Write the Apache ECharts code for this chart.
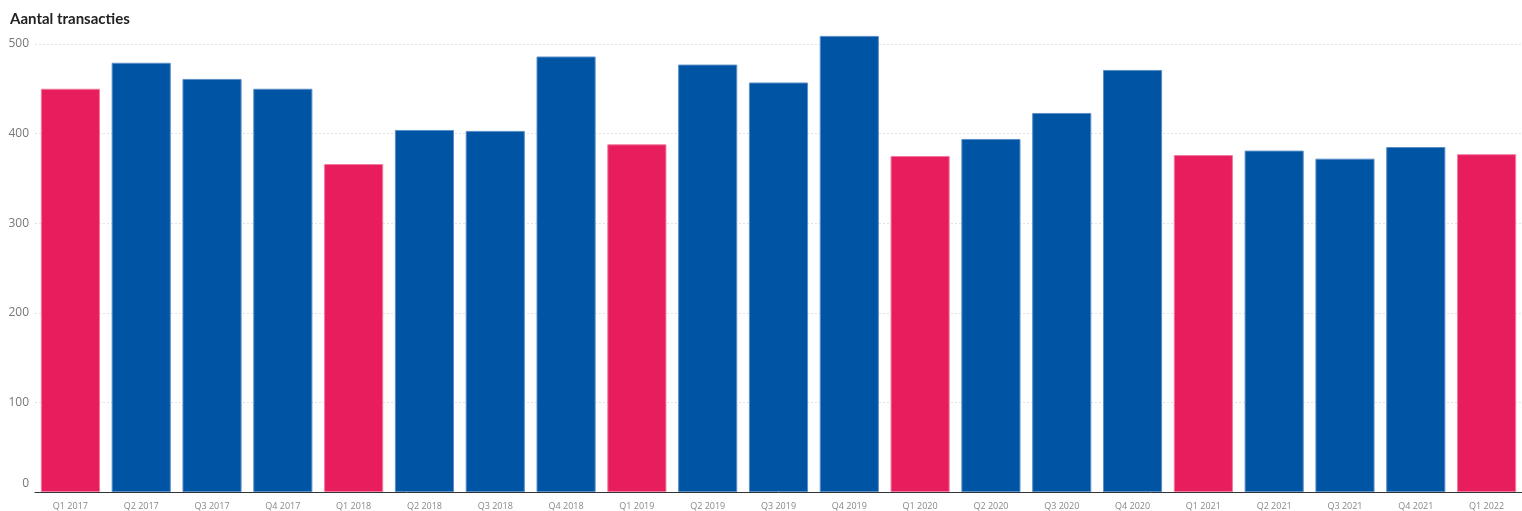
<!DOCTYPE html>
<html>
<head>
<meta charset="utf-8">
<script src="https://cdn.jsdelivr.net/npm/echarts@6/dist/echarts.min.js"></script>
<style>
    html, body { margin: 0; padding: 0; background: #fff; }
    #chart { width: 1522px; height: 511px; }
</style>
</head>
<body>
<div id="chart"></div>
<script>
const quarters = [
    'Q1 2017', 'Q2 2017', 'Q3 2017', 'Q4 2017',
    'Q1 2018', 'Q2 2018', 'Q3 2018', 'Q4 2018',
    'Q1 2019', 'Q2 2019', 'Q3 2019', 'Q4 2019',
    'Q1 2020', 'Q2 2020', 'Q3 2020', 'Q4 2020',
    'Q1 2021', 'Q2 2021', 'Q3 2021', 'Q4 2021',
    'Q1 2022'
];
const transacties = [
    450, 479, 461, 450,
    366, 404, 403, 486,
    388, 477, 457, 509,
    375, 394, 423, 471,
    376, 381, 372, 385,
    377
];
const yTicks = [0, 100, 200, 300, 400, 500];

const pink = '#e71d5e';
const blue = '#0054a4';
const gridColor = '#e2e2e2';

const myChart = echarts.init(document.getElementById('chart'));

const barData = transacties.map((v, i) => {
    const isQ1 = quarters[i].startsWith('Q1');
    return {
        value: v,
        itemStyle: {
            color: isQ1 ? pink : blue,
            borderColor: isQ1 ? '#f27a9e' : '#5b8fc8',
            borderWidth: 1
        }
    };
});

// gridlines on the ticks, none on the extra top edge
const splitColors = yTicks.map(() => gridColor).concat(['rgba(0,0,0,0)']);

const option = {
    animation: false,
    title: {
        text: 'Aantal transacties',
        left: 5,
        top: 7,
        textStyle: {
            fontFamily: 'Lato',
            fontWeight: 'bold',
            fontSize: 15,
            color: '#222'
        }
    },
    grid: {
        left: 35,
        right: -8,
        top: 35,
        bottom: 19
    },
    xAxis: {
        type: 'category',
        data: quarters,
        axisLine: { lineStyle: { color: '#333', width: 1 } },
        axisTick: { alignWithLabel: true, length: 5, lineStyle: { color: '#333' } },
        axisLabel: {
            fontSize: 9,
            color: '#888',
            margin: 10,
            fontFamily: 'Open Sans',
            interval: 0
        }
    },
    yAxis: {
        type: 'value',
        min: yTicks[0],
        max: 510,
        interval: 100,
        axisLine: { show: false },
        axisTick: { show: false },
        splitLine: { lineStyle: { color: splitColors, type: [2, 2] } },
        axisLabel: {
            fontSize: 12,
            color: '#777',
            margin: 6,
            fontFamily: 'Open Sans',
            showMaxLabel: false,
            formatter: function (v) {
                if (yTicks.indexOf(v) < 0) return '';
                return v === 0 ? '{zero|0}' : String(v);
            },
            rich: {
                zero: { fontSize: 12, color: '#777', fontFamily: 'Open Sans', padding: [0, 0, 16, 0] }
            }
        }
    },
    series: [{
        type: 'bar',
        data: barData,
        barCategoryGap: '16.5%'
    }]
};

myChart.setOption(option);
</script>
</body>
</html>
